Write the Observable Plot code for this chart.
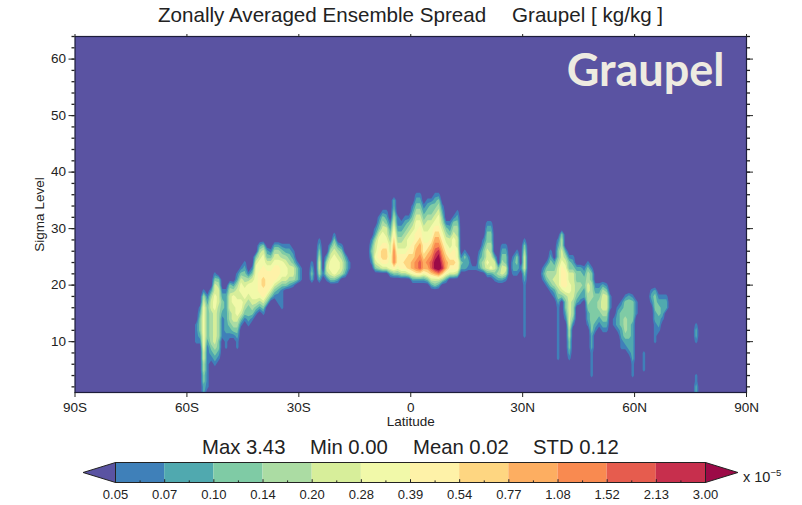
<!DOCTYPE html>
<html>
<head>
<meta charset="utf-8">
<script src="https://cdn.jsdelivr.net/npm/d3@7"></script>
<script src="https://cdn.jsdelivr.net/npm/@observablehq/plot@0.6"></script>
<style>
html,body{margin:0;padding:0;background:#fff;}
#page{position:relative;width:802px;height:505px;overflow:hidden;font-family:"Liberation Sans",Arial,sans-serif;color:#222;}
#page svg{position:absolute;left:0;overflow:visible;background:transparent;}
.t{position:absolute;white-space:nowrap;line-height:1;}
sup{font-size:9.5px;line-height:0;vertical-align:6px;}
</style>
</head>
<body>
<div id="page"></div>
<script>
// Legend (units of 1e-5 kg/kg)
const legendBreaks = ["0.05","0.07","0.10","0.14","0.20","0.28","0.39","0.54","0.77","1.08","1.52","2.13","3.00"];
const legendColors = ["#5a53a2","#3f80b9","#50a9af","#7fcba5","#abdca3","#d7ee9a","#f1f9a9","#fef2a8","#fed681","#fdae61","#f98a50","#e65c4e","#c72f4d","#9c0a47"];

// Reading of the picture, column by column (1 degree columns). Each profile starts at its
// start level and steps 1 sigma level; each character is the legend class (0..e) read there.
const gridWidth = 180, gridHeight = 64, emptyValue = 0;

const southLat = [-57.5,-56.5,-55.5,-54.5,-53.5,-52.5,-51.5,-50.5,-49.5,-48.5,-47.5,-46.5,-45.5,-44.5,-43.5,-42.5,-41.5,-40.5,-39.5,-38.5,-37.5,-36.5,-35.5,-34.5,-33.5,-32.5,-31.5,-30.5,-29.5,-26.5,-24.5,-23.5,-22.5,-21.5,-20.5,-19.5,-18.5,-17.5,-16.5];
const southStart = [10,10,1,2,7,6,7,11,9,11,11,9,13,14,13,14,15,16,15,17,18,18,17,16,20,20,20,21,21,21,21,22,21,21,21,21,22,22,23];
const southProfile = ["1111","1233321","2233445566666666541","11111111233333321","1234444445542","12345555556665531","123344444455543","111123321","11122222221","1234455543","1345556642","11234566655421","13566566531","13456654321","1233456641","1345666531","13566666653","246777766542","1357788776653","3577776532","357776531","1357776542","11246776542","111135666431","35665421","24554321","1455321","3331","111","2321","24554321","1","14542","3566542","366665431","2566542","455431","2332","11"];

const tropicLat = [-10.5,-9.5,-8.5,-7.5,-6.5,-5.5,-4.5,-3.5,-2.5,-1.5,-0.5,0.5,1.5,2.5,3.5,4.5,5.5,6.5,7.5,8.5,9.5,10.5,11.5,12.5,13.5,14.5,15.5,16.5,17.5,18.5,19.5,20.5,21.5,22.5,23.5,24.5,25.5,27.5,28.5,29.5,30.5];
const tropicStart = [24,23,23,23,23,22,22,22,22,22,22,21,21,21,21,21,20,20,20,21,21,22,22,22,23,23,23,23,23,23,23,22,22,21,21,21,21,22,22,23,11];
const tropicProfile = ["12321","35655421","4677665321","57887665431","57887655321","2666554321","37aaa987654322","36776543211","4777654321","47876554321","58887665431","26998776654321","27aa998776654321","27bba99877654321","26998776654321","379a98766554321","258bba9876654331","359ddcba987654321","25aeedca987665431","48cba987654321","26998765431","5787655321","57877665431","477665544321","231","2231","121","1","1","2321","443321","2565543321","2655443321","13552","243","2554321","1453321","1221","12331","1","111111111123555431"];

const northLat = [35.5,36.5,37.5,38.5,39.5,40.5,41.5,42.5,43.5,44.5,45.5,46.5,47.5,48.5,49.5,50.5,51.5,52.5,53.5,54.5,55.5,56.5,57.5,58.5,59.5,60.5,62.5,64.5,65.5,66.5,67.5,68.5,76.5];
const northStart = [21,20,19,18,7,18,14,7,13,17,17,18,13,4,12,13,12,12,16,13,12,9,9,8,4,15,5,17,10,12,14,16,1];
const northProfile = ["121","13431","13443321","1245432","1111111111234555543321","357777655443","1233467776542","1233445555556655331","1344455555321","2344332","1234332","223321","122344554431","11111222333333444331","123333321","12344321","123455542","123455531","111","11","12221","112233321","1234443331","12233333332","111222222233331","111","1111","121","1111223332","1223321","12221","221","2211000001221"];

const columnLat = [...southLat,...tropicLat,...northLat];
const columnStart = [...southStart,...tropicStart,...northStart];
const columnProfile = [...southProfile,...tropicProfile,...northProfile];

const latTicks = [-90,-60,-30,0,30,60,90];
const levelTicks = [10,20,30,40,50,60];
const levelMinor = d3.range(2,65,2);

const grid = new Array(gridWidth*gridHeight).fill(emptyValue);
columnLat.forEach((lat,k)=>{
  const i = Math.floor(lat+90);
  [...columnProfile[k]].forEach((c,n)=>{
    const j = columnStart[k]+n-1;
    const v = parseInt(c,16);
    grid[j*gridWidth+i] = v===0 ? emptyValue : v+0.5;
  });
});

const classes = d3.range(1,legendColors.length);
const fmtLat = d => d===0 ? "0" : Math.abs(d)+(d<0?"S":"N");
const noLabel = () => "";
const baseStyle = {fontFamily:'"Liberation Sans",Arial,sans-serif',fontSize:"13.5px",color:"#222",background:"transparent"};

const main = Plot.plot({
  width:802,height:398,
  marginTop:6,marginBottom:36,marginLeft:74.5,marginRight:56,
  style:baseStyle,
  x:{domain:[-90,90]},
  y:{domain:[1,64]},
  color:{type:"threshold",domain:classes,range:legendColors},
  marks:[
    Plot.frame({fill:legendColors[0],stroke:null}),
    Plot.contour(grid,{width:gridWidth,height:gridHeight,x1:-90,x2:90,y1:0.5,y2:64.5,fill:Plot.identity,thresholds:classes,clip:true}),
    Plot.text(["Graupel"],{frameAnchor:"top-right",dx:-22,dy:18,fontFamily:"Lato",fontWeight:700,fontSize:45,fill:"#eeebe1",lineAnchor:"top"}),
    Plot.frame({stroke:"#1d1d3a",strokeWidth:1.2}),
    Plot.axisX({ticks:latTicks,tickFormat:fmtLat,tickSize:5,tickPadding:5,anchor:"bottom",label:"Latitude",labelAnchor:"center",labelArrow:"none",labelOffset:33,fontSize:13.5}),
    Plot.axisX({ticks:latTicks,tickFormat:noLabel,tickSize:3,anchor:"top",label:null}),
    Plot.axisY({ticks:levelTicks,tickSize:6,tickPadding:3,anchor:"left",label:"Sigma Level",labelAnchor:"center",labelArrow:"none",labelOffset:41}),
    Plot.axisY({ticks:levelMinor,tickFormat:noLabel,tickSize:3,anchor:"left",label:null,strokeWidth:1.3}),
    Plot.axisY({ticks:levelTicks,tickFormat:noLabel,tickSize:6,anchor:"right",label:null}),
    Plot.axisY({ticks:levelMinor,tickFormat:noLabel,tickSize:3,anchor:"right",label:null,strokeWidth:1.3})
  ]
});
main.style.top="30px";
const contourGroup = main.querySelector('g[aria-label="contour"]');
if (contourGroup) contourGroup.style.filter="blur(0.7px)";

const segs = d3.range(12).map(i=>({i,c:legendColors[i+1]}));
const arrow = 0.66;
const bar = Plot.plot({
  width:802,height:47,
  marginTop:4,marginBottom:23,marginLeft:115,marginRight:97,
  style:{...baseStyle,fontSize:"13px"},
  x:{domain:[0,12]},
  y:{domain:[0,1],axis:null},
  marks:[
    Plot.rectY(segs,{x1:"i",x2:d=>d.i+1,y1:0,y2:1,fill:"c"}),
    Plot.line([[0,0],[-arrow,0.5],[0,1],[0,0]],{fill:legendColors[0],stroke:"#222",strokeWidth:1}),
    Plot.line([[12,0],[12+arrow,0.5],[12,1],[12,0]],{fill:legendColors[13],stroke:"#222",strokeWidth:1}),
    Plot.ruleX(d3.range(0,12.5,0.5),{y1:0,y2:d=>d%1===0?0.14:0.08,stroke:"#222",strokeWidth:1}),
    Plot.frame({stroke:"#222",strokeWidth:1}),
    Plot.axisX({ticks:d3.range(13),tickFormat:i=>legendBreaks[i],tickSize:0,tickPadding:7,anchor:"bottom",label:null})
  ]
});
bar.style.top="458px";

const page = document.getElementById("page");
page.append(main,bar);
const addText=(txt,left,top,size)=>{const s=document.createElement("span");s.className="t";s.innerHTML=txt;s.style.left=left+"px";s.style.top=top+"px";s.style.fontSize=size+"px";page.append(s);};
addText("Zonally Averaged Ensemble Spread",158,5,20.6);
addText("Graupel [ kg/kg ]",512,5,20.6);
addText("Max 3.43",202,437,20.3);
addText("Min 0.00",310,437,20.3);
addText("Mean 0.02",413,437,20.3);
addText("STD 0.12",533,437,20.3);
addText("x 10<sup>&minus;5</sup>",743,470,14.5);
</script>
</body>
</html>
